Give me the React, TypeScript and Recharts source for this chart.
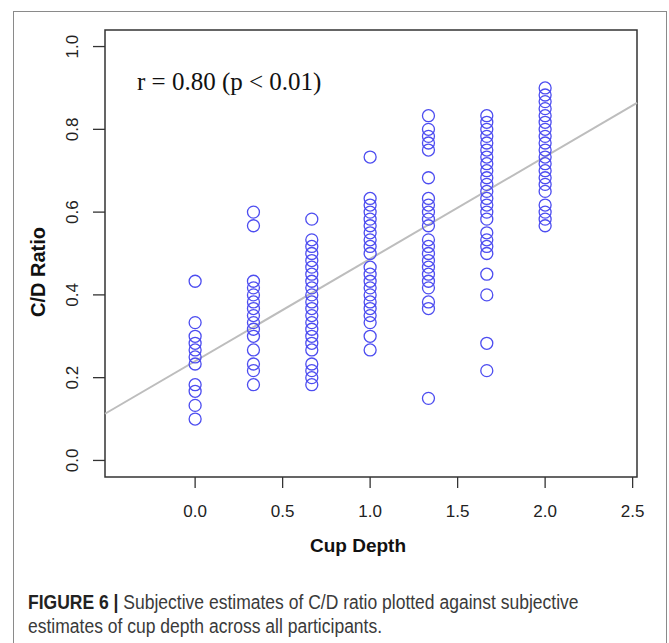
import React from "react";
import {
  ScatterChart,
  Scatter,
  XAxis,
  YAxis,
  ReferenceLine,
  ReferenceArea,
} from "recharts";

// subjective cup depth levels (x) and the C/D ratios read at each level
const depth0 = [0.433, 0.333, 0.3, 0.283, 0.267, 0.25, 0.233, 0.183, 0.167, 0.133, 0.1];
const depth1 = [0.6, 0.567, 0.433, 0.417, 0.4, 0.383, 0.367, 0.35, 0.333, 0.317, 0.3, 0.267, 0.233, 0.217, 0.183];
const depth2 = [
  0.583, 0.533, 0.517, 0.5, 0.483, 0.467, 0.45, 0.433, 0.417, 0.4, 0.383, 0.367, 0.35,
  0.333, 0.317, 0.3, 0.283, 0.267, 0.233, 0.217, 0.2, 0.183,
];
const depth3 = [
  0.733, 0.633, 0.617, 0.6, 0.583, 0.567, 0.55, 0.533, 0.517, 0.5, 0.467, 0.45, 0.433,
  0.417, 0.4, 0.383, 0.367, 0.35, 0.333, 0.3, 0.267,
];
const depth4 = [
  0.833, 0.8, 0.783, 0.767, 0.75, 0.683, 0.633, 0.617, 0.6, 0.583, 0.567, 0.533, 0.517,
  0.5, 0.483, 0.467, 0.45, 0.433, 0.417, 0.383, 0.367, 0.15,
];
const depth5 = [
  0.833, 0.817, 0.8, 0.783, 0.767, 0.75, 0.733, 0.717, 0.7, 0.683, 0.667, 0.65, 0.633,
  0.617, 0.6, 0.583, 0.55, 0.533, 0.517, 0.5, 0.45, 0.4, 0.283, 0.217,
];
const depth6 = [
  0.9, 0.883, 0.867, 0.85, 0.833, 0.817, 0.8, 0.783, 0.767, 0.75, 0.733, 0.717, 0.7,
  0.683, 0.667, 0.65, 0.617, 0.6, 0.583, 0.567,
];

const cupDepths = [0, 1 / 3, 2 / 3, 1, 4 / 3, 5 / 3, 2];
const ratioColumns = [depth0, depth1, depth2, depth3, depth4, depth5, depth6];

const xTicks = [0, 0.5, 1, 1.5, 2, 2.5];
const yTicks = [0, 0.2, 0.4, 0.6, 0.8, 1.0];

// least squares fit drawn in grey
const fitIntercept = 0.24;
const fitSlope = 0.247;

const X_MIN = -0.515;
const X_MAX = 2.525;
const Y_MIN = -0.04;
const Y_MAX = 1.04;

const points = cupDepths.flatMap((x, i) => ratioColumns[i].map((y) => ({ x, y })));

const SANS = "'Liberation Sans', Arial, Helvetica, sans-serif";

const YTick = (props: any) => {
  const { x, y, payload } = props;
  const cx = x - 18;
  return (
    <text
      x={cx}
      y={y}
      transform={`rotate(-90, ${cx}, ${y})`}
      textAnchor="middle"
      dominantBaseline="central"
      fontSize={17}
      fontFamily={SANS}
      fill="#222"
    >
      {Number(payload.value).toFixed(1)}
    </text>
  );
};

const Ring = (props: any) => (
  <circle cx={props.cx} cy={props.cy} r={6} fill="none" stroke="#4d4df0" strokeWidth={1.3} />
);

export default function App() {
  return (
    <div style={{ position: "absolute", left: 0, top: 0, width: 669, height: 643, overflow: "hidden", background: "#fff" }}>
      <div
        style={{
          position: "absolute",
          left: 13,
          top: 11,
          width: 652,
          height: 700,
          border: "1.5px solid #8a8a8a",
        }}
      />
      <div style={{ position: "absolute", left: 0, top: 0 }}>
        <ScatterChart width={669} height={560} margin={{ top: 30, right: 32, bottom: 0, left: 0 }}>
          <XAxis
            type="number"
            dataKey="x"
            domain={[X_MIN, X_MAX]}
            ticks={xTicks}
            allowDataOverflow
            axisLine={false}
            tickSize={11}
            tickMargin={17}
            height={83}
            tickLine={{ stroke: "#333", strokeWidth: 1.3 }}
            tickFormatter={(v: number) => v.toFixed(1)}
            tick={{ fontSize: 17, fill: "#222", fontFamily: SANS }}
          />
          <YAxis
            type="number"
            dataKey="y"
            domain={[Y_MIN, Y_MAX]}
            ticks={yTicks}
            allowDataOverflow
            axisLine={false}
            tickSize={12}
            width={105}
            tickLine={{ stroke: "#333", strokeWidth: 1.3 }}
            tick={<YTick />}
          />
          <ReferenceArea
            x1={X_MIN}
            x2={X_MAX}
            y1={Y_MIN}
            y2={Y_MAX}
            fill="none"
            stroke="#333"
            strokeWidth={1.5}
            fillOpacity={0}
          />
          <Scatter data={points} shape={<Ring />} isAnimationActive={false} />
          <ReferenceLine
            segment={[
              { x: X_MIN, y: fitIntercept + fitSlope * X_MIN },
              { x: X_MAX, y: fitIntercept + fitSlope * X_MAX },
            ]}
            stroke="#bdbdbd"
            strokeWidth={2}
          />
          <text x={137} y={90} fontSize={25} fontFamily="'Liberation Serif', 'Times New Roman', serif" fill="#111">
            r = 0.80 (p &lt; 0.01)
          </text>
          <text x={358} y={552} textAnchor="middle" fontSize={19} fontWeight="bold" fontFamily={SANS} fill="#111">
            Cup Depth
          </text>
          <text
            x={38}
            y={272}
            transform="rotate(-90, 38, 272)"
            textAnchor="middle"
            dominantBaseline="central"
            fontSize={20}
            fontWeight="bold"
            fontFamily={SANS}
            fill="#111"
          >
            C/D Ratio
          </text>
        </ScatterChart>
      </div>
      <div
        style={{
          position: "absolute",
          left: 28,
          top: 590,
          width: 700,
          fontFamily: SANS,
          fontSize: 20,
          lineHeight: "24px",
          color: "#3a3a3a",
          transform: "scaleX(0.875)",
          transformOrigin: "left top",
          whiteSpace: "nowrap",
        }}
      >
        <b style={{ color: "#222" }}>FIGURE 6 |</b> Subjective estimates of C/D ratio plotted against subjective
        <br />
        estimates of cup depth across all participants.
      </div>
    </div>
  );
}
